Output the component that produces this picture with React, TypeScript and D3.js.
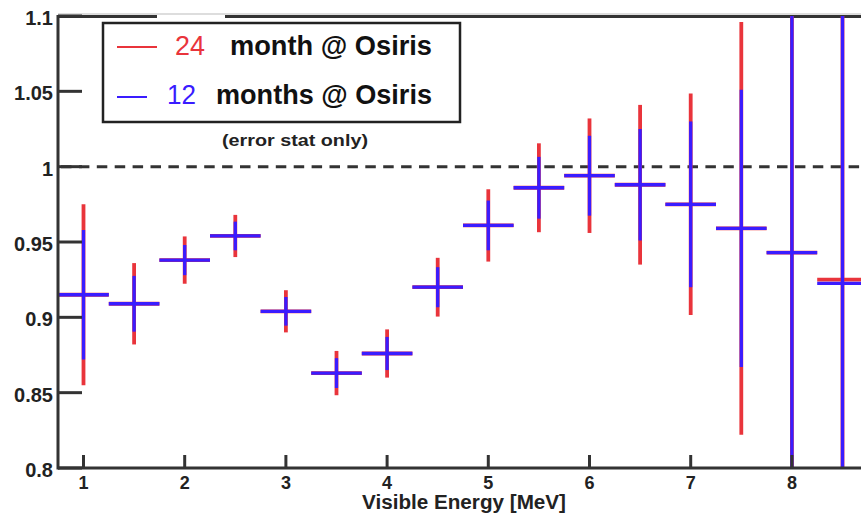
import React from "react";
import * as d3 from "d3";

const binCenters = [1, 1.5, 2, 2.5, 3, 3.5, 4, 4.5, 5, 5.5, 6, 6.5, 7, 7.5, 8, 8.5];
const ratio24 = [0.915, 0.909, 0.938, 0.954, 0.904, 0.863, 0.876, 0.920, 0.961, 0.986, 0.994, 0.988, 0.975, 0.959, 0.943, 0.925];
const ratio12 = [0.915, 0.909, 0.938, 0.954, 0.904, 0.863, 0.876, 0.920, 0.961, 0.986, 0.994, 0.988, 0.975, 0.959, 0.943, 0.9225];
const err24 = [0.060, 0.027, 0.0157, 0.014, 0.014, 0.0147, 0.016, 0.0195, 0.024, 0.0295, 0.038, 0.053, 0.0735, 0.137, 0.19, 0.21];
const err12 = [0.043, 0.0185, 0.010, 0.0095, 0.0095, 0.0099, 0.011, 0.0133, 0.0165, 0.0205, 0.0265, 0.037, 0.055, 0.092, 0.27, 0.3];
const xTicks = [1, 2, 3, 4, 5, 6, 7, 8];
const yTicks = [0.8, 0.85, 0.9, 0.95, 1, 1.05, 1.1];
const yTickLabels = ["0.8", "0.85", "0.9", "0.95", "1", "1.05", "1.1"];
const legendNumbers = ["24", "12"];
const legendTexts = ["month @ Osiris", "months @ Osiris"];
const note = "(error stat only)";
const xTitle = "Visible Energy [MeV]";
const binHalf = 0.25;

const RED = "#e9343b";
const BLUE = "#3a1cff";
const AXIS = "#333";
const FONT = "Liberation Sans, Arial, Helvetica, sans-serif";

export default function App() {
  const W = 861, H = 515;
  const left = 58, top = 16, bottom = 468;
  const x = d3.scaleLinear().domain([0.75, 8.75]).range([58.2, 867.8]);
  const y = d3.scaleLinear().domain([0.8, 1.1]).range([bottom, top]);

  const series = [
    { vals: ratio24, errs: err24, color: RED, w: 3.8 },
    { vals: ratio12, errs: err12, color: BLUE, w: 3.3 },
  ];

  return (
    <>
      <style>{`body{margin:0;background:#fff}`}</style>
      <svg width={W} height={H} style={{ display: "block" }} fontFamily={FONT}>
        <defs>
          <clipPath id="plot">
            <rect x={left} y={top} width={W - left} height={bottom - top} />
          </clipPath>
        </defs>
        <rect width={W} height={H} fill="#fff" />
        {/* top frame */}
        <line x1={left} x2={W} y1={14} y2={14} stroke="#bbb" strokeWidth={1} />
        <line x1={left} x2={157} y1={16.5} y2={16.5} stroke={AXIS} strokeWidth={3} />
        <line x1={225} x2={W} y1={16.5} y2={16.5} stroke={AXIS} strokeWidth={3} />
        {/* dashed line at 1 */}
        <line x1={61} x2={W} y1={y(1)} y2={y(1)} stroke={AXIS} strokeWidth={3} strokeDasharray="10.5 7.4" />
        {/* data */}
        <g clipPath="url(#plot)">
          {series.map((s, si) => (
            <g key={si}>
              {binCenters.map((c, i) => (
                <g key={i}>
                  <line x1={x(c)} x2={x(c)} y1={y(s.vals[i] + s.errs[i])} y2={y(s.vals[i] - s.errs[i])} stroke={s.color} strokeWidth={s.w} />
                  <line x1={x(c - binHalf)} x2={x(c + binHalf)} y1={y(s.vals[i])} y2={y(s.vals[i])} stroke={s.color} strokeWidth={s.w} />
                </g>
              ))}
            </g>
          ))}
        </g>
        {/* axes */}
        <line x1={left} x2={left} y1={top - 1} y2={bottom + 1.5} stroke={AXIS} strokeWidth={3} />
        <line x1={left} x2={W} y1={bottom} y2={bottom} stroke={AXIS} strokeWidth={3} />
        {yTicks.map((t, i) => (
          <g key={i}>
            <line x1={left} x2={left + 24} y1={y(t)} y2={y(t)} stroke={AXIS} strokeWidth={3} />
            <text x={53} y={y(t) + 9} textAnchor="end" fontSize={20} fontWeight="bold" fill="#222">{yTickLabels[i]}</text>
          </g>
        ))}
        {xTicks.map((t, i) => (
          <g key={i}>
            <line x1={x(t)} x2={x(t)} y1={bottom} y2={bottom - 13} stroke={AXIS} strokeWidth={3} />
            <text x={x(t)} y={489} textAnchor="middle" fontSize={18} fontWeight="bold" fill="#222">{t}</text>
          </g>
        ))}
        <text x={464} y={509} textAnchor="middle" fontSize={20} fontWeight="bold" fill="#222" textLength={204} lengthAdjust="spacingAndGlyphs">{xTitle}</text>
        {/* legend */}
        <rect x={103} y={23} width={357} height={99} fill="#fff" stroke="#222" strokeWidth={2.5} />
        <line x1={117} x2={157} y1={47} y2={47} stroke={RED} strokeWidth={2} />
        <line x1={117} x2={147} y1={97} y2={97} stroke={BLUE} strokeWidth={2} />
        <text x={175} y={55} fontSize={27} fill={RED} textLength={30} lengthAdjust="spacingAndGlyphs">{legendNumbers[0]}</text>
        <text x={167} y={104} fontSize={27} fill={BLUE} textLength={29} lengthAdjust="spacingAndGlyphs">{legendNumbers[1]}</text>
        <text x={230} y={55} fontSize={27} fontWeight="bold" fill="#111" textLength={202} lengthAdjust="spacingAndGlyphs">{legendTexts[0]}</text>
        <text x={216} y={104} fontSize={27} fontWeight="bold" fill="#111" textLength={216} lengthAdjust="spacingAndGlyphs">{legendTexts[1]}</text>
        <text x={222} y={146} fontSize={17} fontWeight="bold" fill="#222" textLength={146} lengthAdjust="spacingAndGlyphs">{note}</text>
      </svg>
    </>
  );
}
